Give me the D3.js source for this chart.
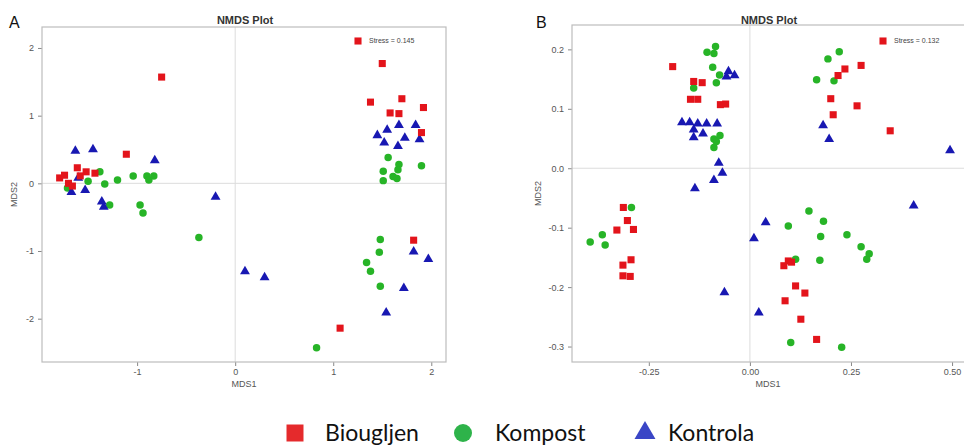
<!DOCTYPE html>
<html>
<head>
<meta charset="utf-8">
<script src="https://cdn.jsdelivr.net/npm/d3@7"></script>
<style>
  html, body { margin: 0; padding: 0; background: #fff; }
  svg { display: block; }
  .tick text { font-family: "Liberation Sans", Arial, sans-serif; font-size: 9px; fill: #555; }
  .tick line { stroke: #888; }
</style>
</head>
<body>
<svg id="chart" width="964" height="447"></svg>
<script>
// Group names and colours
const groups = ["Biougljen", "Kompost", "Kontrola"];
const markColors = { Biougljen: "#e3141b", Kompost: "#27b427", Kontrola: "#1818b2" };
const legendColors = { Biougljen: "#e52a2c", Kompost: "#2eb34a", Kontrola: "#3a46c6" };

// Panel A ordination scores [MDS1, MDS2]
const aBiougljen = [
  [-0.75, 1.57], [-1.11, 0.43], [-1.79, 0.08], [-1.74, 0.12], [-1.70, 0.00],
  [-1.66, -0.04], [-1.61, 0.23], [-1.58, 0.11], [-1.52, 0.17], [-1.43, 0.15],
  [1.50, 1.77], [1.38, 1.20], [1.70, 1.25], [1.92, 1.12], [1.58, 1.04],
  [1.67, 1.03], [1.90, 0.75], [1.82, -0.84], [1.07, -2.14]
];
const aKompost = [
  [-1.50, 0.03], [-1.71, -0.07], [-1.38, 0.17], [-1.33, -0.01], [-1.20, 0.05],
  [-1.04, 0.11], [-0.90, 0.11], [-0.88, 0.05], [-0.83, 0.11], [-1.28, -0.32],
  [-0.97, -0.32], [-0.94, -0.44], [-0.37, -0.80], [1.56, 0.38], [1.67, 0.28],
  [1.90, 0.26], [1.51, 0.18], [1.66, 0.20], [1.61, 0.10], [1.65, 0.07],
  [1.51, 0.04], [1.48, -0.83], [1.47, -1.02], [1.34, -1.17], [1.38, -1.30],
  [1.48, -1.52], [0.83, -2.43]
];
const aKontrola = [
  [-1.63, 0.48], [-1.45, 0.50], [-0.82, 0.34], [-1.67, -0.13], [-1.53, -0.10],
  [-1.36, -0.27], [-1.34, -0.35], [-0.20, -0.20], [-1.60, 0.08], [0.10, -1.30],
  [0.30, -1.39], [1.45, 0.71], [1.55, 0.79], [1.67, 0.86], [1.84, 0.86],
  [1.52, 0.60], [1.73, 0.67], [1.66, 0.55], [1.88, 0.65], [1.82, -1.01],
  [1.97, -1.12], [1.72, -1.55], [1.54, -1.91]
];

// Panel B ordination scores [MDS1, MDS2]
const bBiougljen = [
  [-0.191, 0.171], [-0.139, 0.146], [-0.118, 0.144], [-0.147, 0.116], [-0.129, 0.116],
  [-0.073, 0.107], [-0.060, 0.108], [0.275, 0.173], [0.235, 0.167], [0.218, 0.156],
  [0.200, 0.117], [0.265, 0.105], [0.206, 0.090], [0.347, 0.063], [-0.313, -0.066],
  [-0.303, -0.088], [-0.329, -0.104], [-0.288, -0.103], [-0.314, -0.163], [-0.294, -0.154],
  [-0.314, -0.181], [-0.296, -0.182], [0.095, -0.156], [0.084, -0.164], [0.103, -0.158],
  [0.113, -0.198], [0.136, -0.210], [0.087, -0.223], [0.126, -0.254], [0.165, -0.288]
];
const bKompost = [
  [-0.106, 0.195], [-0.085, 0.205], [-0.089, 0.193], [-0.092, 0.170], [-0.075, 0.157],
  [-0.083, 0.144], [-0.139, 0.135], [-0.089, 0.049], [-0.074, 0.055], [-0.083, 0.045],
  [-0.089, 0.035], [0.221, 0.196], [0.193, 0.184], [0.165, 0.149], [0.208, 0.147],
  [-0.293, -0.066], [-0.395, -0.124], [-0.365, -0.112], [-0.358, -0.129], [0.146, -0.072],
  [0.182, -0.089], [0.095, -0.097], [0.175, -0.115], [0.240, -0.112], [0.275, -0.132],
  [0.295, -0.144], [0.289, -0.153], [0.113, -0.153], [0.173, -0.155], [0.101, -0.293],
  [0.227, -0.301]
];
const bKontrola = [
  [-0.168, 0.077], [-0.149, 0.077], [-0.129, 0.075], [-0.107, 0.075], [-0.081, 0.075],
  [-0.139, 0.065], [-0.139, 0.052], [-0.116, 0.058], [-0.077, 0.009], [-0.068, -0.008],
  [-0.089, -0.020], [-0.136, -0.034], [-0.053, 0.163], [-0.038, 0.156], [-0.058, 0.154],
  [0.181, 0.072], [0.196, 0.049], [0.495, 0.030], [0.405, -0.063], [0.039, -0.091],
  [0.010, -0.118], [-0.063, -0.209], [0.022, -0.243]
];

// Axis ticks
const aXTicks = [-1, 0, 1, 2];
const aYTicks = [-2, -1, 0, 1, 2];
const bXTicks = [-0.25, 0, 0.25, 0.5];
const bYTicks = [-0.3, -0.2, -0.1, 0, 0.1, 0.2];

const panels = [
  {
    letter: "A", stress: "Stress = 0.145",
    data: { Biougljen: aBiougljen, Kompost: aKompost, Kontrola: aKontrola },
    xDomain: [-1.97, 2.15], yDomain: [-2.64, 2.31],
    box: { left: 42, right: 446, top: 27, bottom: 362 },
    xTicks: aXTicks, yTicks: aYTicks,
    xFmt: d => String(d), yFmt: d => String(d),
    letterX: 9, ylabX: 17, stressX: 358
  },
  {
    letter: "B", stress: "Stress = 0.132",
    data: { Biougljen: bBiougljen, Kompost: bKompost, Kontrola: bKontrola },
    xDomain: [-0.44, 0.532], yDomain: [-0.326, 0.241],
    box: { left: 572, right: 965, top: 25, bottom: 362 },
    xTicks: bXTicks, yTicks: bYTicks,
    xFmt: d => d.toFixed(2), yFmt: d => d.toFixed(1),
    letterX: 536, ylabX: 541, stressX: 883
  }
];

const svg = d3.select("#chart");
const symbolType = { Biougljen: d3.symbolSquare, Kompost: d3.symbolCircle, Kontrola: d3.symbolTriangle };
const symbolSize = { Biougljen: 50, Kompost: 44, Kontrola: 42 };
const drawOrder = ["Kompost", "Kontrola", "Biougljen"];

panels.forEach(p => {
  const b = p.box;
  const x = d3.scaleLinear().domain(p.xDomain).range([b.left, b.right]);
  const y = d3.scaleLinear().domain(p.yDomain).range([b.bottom, b.top]);
  const g = svg.append("g");

  // Reference lines through the origin
  g.append("line").attr("x1", x(0)).attr("x2", x(0)).attr("y1", b.top).attr("y2", b.bottom)
    .attr("stroke", "#dcdcdc").attr("stroke-width", 1);
  g.append("line").attr("x1", b.left).attr("x2", b.right).attr("y1", y(0)).attr("y2", y(0))
    .attr("stroke", "#dcdcdc").attr("stroke-width", 1);

  // Axes
  const xAxis = g.append("g").attr("transform", `translate(0,${b.bottom})`)
    .call(d3.axisBottom(x).tickValues(p.xTicks).tickFormat(p.xFmt).tickSize(4).tickPadding(3));
  const yAxis = g.append("g").attr("transform", `translate(${b.left},0)`)
    .call(d3.axisLeft(y).tickValues(p.yTicks).tickFormat(p.yFmt).tickSize(4).tickPadding(4));
  xAxis.select(".domain").remove();
  yAxis.select(".domain").remove();

  // Panel frame
  g.append("rect").attr("x", b.left).attr("y", b.top)
    .attr("width", b.right - b.left).attr("height", b.bottom - b.top)
    .attr("fill", "none").attr("stroke", "#bdbdbd").attr("stroke-width", 1.2);

  // Points
  drawOrder.forEach(grp => {
    g.append("g").selectAll("path").data(p.data[grp]).join("path")
      .attr("transform", d => `translate(${x(d[0])},${y(d[1])})`)
      .attr("d", d3.symbol().type(symbolType[grp]).size(symbolSize[grp]))
      .attr("fill", markColors[grp]);
  });

  // Titles
  g.append("text").attr("x", (b.left + Math.min(b.right, 964)) / 2 + 1).attr("y", 24)
    .attr("text-anchor", "middle").attr("font-family", "Liberation Sans, Arial, sans-serif")
    .attr("font-size", 11).attr("font-weight", "bold").attr("fill", "#333").text("NMDS Plot");
  g.append("text").attr("x", p.letterX).attr("y", 28)
    .attr("font-family", "Liberation Sans, Arial, sans-serif")
    .attr("font-size", 16).attr("fill", "#111").text(p.letter);
  g.append("text").attr("x", (b.left + Math.min(b.right, 964)) / 2).attr("y", 387)
    .attr("text-anchor", "middle").attr("font-family", "Liberation Sans, Arial, sans-serif")
    .attr("font-size", 9).attr("fill", "#555").text("MDS1");
  g.append("text")
    .attr("transform", `translate(${p.ylabX},${(b.top + b.bottom) / 2}) rotate(-90)`)
    .attr("text-anchor", "middle").attr("font-family", "Liberation Sans, Arial, sans-serif")
    .attr("font-size", 9).attr("fill", "#555").text("MDS2");

  // Stress annotation
  g.append("path").attr("transform", `translate(${p.stressX},${41})`)
    .attr("d", d3.symbol().type(d3.symbolSquare).size(50)).attr("fill", markColors.Biougljen);
  g.append("text").attr("x", p.stressX + 11).attr("y", 41).attr("dy", "0.35em")
    .attr("font-family", "Liberation Sans, Arial, sans-serif")
    .attr("font-size", 7).attr("fill", "#444").text(p.stress);
});

// Shared legend
const legendPos = { Biougljen: 295, Kompost: 463, Kontrola: 645 };
const legendText = { Biougljen: 325, Kompost: 495, Kontrola: 668 };
const legendSize = { Biougljen: 289, Kompost: 254, Kontrola: 190 };
const lg = svg.append("g");
groups.forEach(grp => {
  lg.append("path").attr("transform", `translate(${legendPos[grp]},${433})`)
    .attr("d", d3.symbol().type(symbolType[grp]).size(legendSize[grp]))
    .attr("fill", legendColors[grp]);
  lg.append("text").attr("x", legendText[grp]).attr("y", 441)
    .attr("font-family", "Lato, 'Open Sans', sans-serif").attr("font-size", 23)
    .attr("fill", "#111").text(grp);
});
</script>
</body>
</html>
